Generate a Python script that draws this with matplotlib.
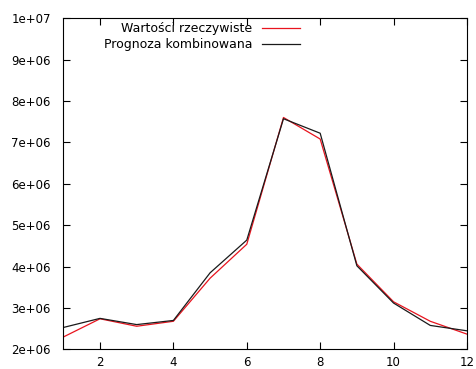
import matplotlib
matplotlib.use("Agg")
import matplotlib.pyplot as plt

# monthly values: actual vs combined forecast
months = [1, 2, 3, 4, 5, 6, 7, 8, 9, 10, 11, 12]
actual = [2.30e6, 2.74e6, 2.56e6, 2.68e6, 3.72e6, 4.54e6, 7.60e6, 7.08e6, 4.06e6, 3.15e6, 2.68e6, 2.37e6]
forecast = [2.53e6, 2.75e6, 2.60e6, 2.70e6, 3.85e6, 4.64e6, 7.57e6, 7.22e6, 4.02e6, 3.12e6, 2.58e6, 2.45e6]

x_ticks = [2, 4, 6, 8, 10, 12]
y_ticks = [2e6, 3e6, 4e6, 5e6, 6e6, 7e6, 8e6, 9e6, 1e7]
y_labels = ["2e+06", "3e+06", "4e+06", "5e+06", "6e+06", "7e+06", "8e+06", "9e+06", "1e+07"]

fig = plt.figure(figsize=(4.76, 3.69), dpi=100)
ax = fig.add_axes([0.133, 0.053, 0.848, 0.898])

ax.plot(months, actual, color="#e8141e", lw=0.9, label="Wartości rzeczywiste")
ax.plot(months, forecast, color="#1a1a1a", lw=0.9, label="Prognoza kombinowana")

ax.set_xlim(1, 12)
ax.set_ylim(2e6, 1e7)
ax.set_xticks(x_ticks)
ax.set_yticks(y_ticks)
ax.set_yticklabels(y_labels)
ax.tick_params(direction="in", length=5, width=0.8, top=True, right=True,
               labelsize=8.5)
ax.tick_params(axis="y", pad=9)
ax.tick_params(axis="x", pad=5)
for s in ax.spines.values():
    s.set_linewidth(0.8)

# key sits top-left with text right-aligned before the sample line
leg = ax.legend(loc="upper left", bbox_to_anchor=(0.085, 1.007), frameon=False,
                fontsize=9, markerfirst=False, handlelength=3.0,
                handletextpad=0.8, labelspacing=0.25, borderaxespad=0.1)
for t in leg.get_texts():
    t.set_ha("right")

fig.savefig("out.png", dpi=100)
